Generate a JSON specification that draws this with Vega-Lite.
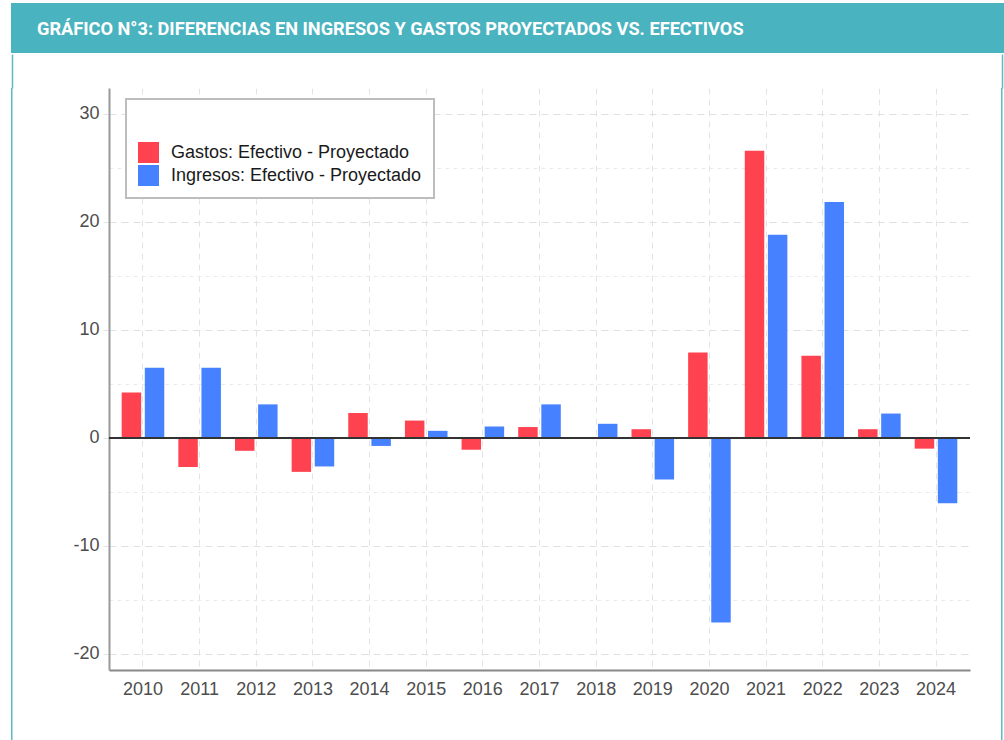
{
  "$schema": "https://vega.github.io/schema/vega-lite/v6.json",
  "padding": {"left": 11, "top": 3, "right": 0, "bottom": 0},
  "background": "white",
  "spacing": 0,
  "config": {
    "view": {"stroke": null},
    "font": "Liberation Sans",
    "legend": {"strokeWidth": 2}
  },
  "resolve": {"legend": {"color": "independent"}, "scale": {"color": "independent"}},
  "vconcat": [
    {
      "width": 993,
      "height": 50,
      "view": {"fill": "#4AB3C0", "stroke": null},
      "data": {"values": [{"t": "GRÁFICO N°3: DIFERENCIAS EN INGRESOS Y GASTOS PROYECTADOS VS. EFECTIVOS"}]},
      "mark": {
        "type": "text",
        "align": "left",
        "baseline": "alphabetic",
        "color": "white",
        "font": "Roboto",
        "fontSize": 18.2,
        "fontWeight": "bold"
      },
      "encoding": {
        "text": {"field": "t"},
        "x": {"value": 26},
        "y": {"value": 31.5}
      }
    },
    {
      "spacing": 0,
      "resolve": {"legend": {"color": "independent"}, "scale": {"color": "independent", "x": "independent", "y": "independent"}},
      "hconcat": [
        {
          "width": 1.5,
          "height": 653,
          "view": {"fill": "#5BBAC6", "stroke": null},
          "data": {"values": [{"v": 0.5}]},
          "mark": {"type": "point", "opacity": 0, "size": 0, "strokeWidth": 0},
          "encoding": {
            "x": {
              "field": "v",
              "type": "quantitative",
              "scale": {"domain": [0, 1], "nice": false},
              "axis": {"orient": "top", "values": [0.5], "labels": false, "domain": false, "grid": false, "ticks": true, "tickSize": 34, "tickColor": "#5BBAC6", "tickWidth": 1.5, "title": null}
            }
          }
        },
        {
          "width": 58.5,
          "height": 653,
          "data": {"values": [{"t": ""}]},
          "mark": {"type": "text"},
          "encoding": {"text": {"field": "t"}}
        },
        {
          "width": 861,
          "height": 582,
          "data": {
            "values": [
              {"year": "2010", "serie": "Gastos: Efectivo - Proyectado", "value": 4.2},
              {"year": "2010", "serie": "Ingresos: Efectivo - Proyectado", "value": 6.5},
              {"year": "2011", "serie": "Gastos: Efectivo - Proyectado", "value": -2.7},
              {"year": "2011", "serie": "Ingresos: Efectivo - Proyectado", "value": 6.5},
              {"year": "2012", "serie": "Gastos: Efectivo - Proyectado", "value": -1.2},
              {"year": "2012", "serie": "Ingresos: Efectivo - Proyectado", "value": 3.1},
              {"year": "2013", "serie": "Gastos: Efectivo - Proyectado", "value": -3.15},
              {"year": "2013", "serie": "Ingresos: Efectivo - Proyectado", "value": -2.65},
              {"year": "2014", "serie": "Gastos: Efectivo - Proyectado", "value": 2.3},
              {"year": "2014", "serie": "Ingresos: Efectivo - Proyectado", "value": -0.75},
              {"year": "2015", "serie": "Gastos: Efectivo - Proyectado", "value": 1.6},
              {"year": "2015", "serie": "Ingresos: Efectivo - Proyectado", "value": 0.65},
              {"year": "2016", "serie": "Gastos: Efectivo - Proyectado", "value": -1.1},
              {"year": "2016", "serie": "Ingresos: Efectivo - Proyectado", "value": 1.05},
              {"year": "2017", "serie": "Gastos: Efectivo - Proyectado", "value": 1.0},
              {"year": "2017", "serie": "Ingresos: Efectivo - Proyectado", "value": 3.1},
              {"year": "2018", "serie": "Gastos: Efectivo - Proyectado", "value": 0},
              {"year": "2018", "serie": "Ingresos: Efectivo - Proyectado", "value": 1.3},
              {"year": "2019", "serie": "Gastos: Efectivo - Proyectado", "value": 0.8},
              {"year": "2019", "serie": "Ingresos: Efectivo - Proyectado", "value": -3.85},
              {"year": "2020", "serie": "Gastos: Efectivo - Proyectado", "value": 7.9},
              {"year": "2020", "serie": "Ingresos: Efectivo - Proyectado", "value": -17.1},
              {"year": "2021", "serie": "Gastos: Efectivo - Proyectado", "value": 26.6},
              {"year": "2021", "serie": "Ingresos: Efectivo - Proyectado", "value": 18.8},
              {"year": "2022", "serie": "Gastos: Efectivo - Proyectado", "value": 7.6},
              {"year": "2022", "serie": "Ingresos: Efectivo - Proyectado", "value": 21.85},
              {"year": "2023", "serie": "Gastos: Efectivo - Proyectado", "value": 0.8},
              {"year": "2023", "serie": "Ingresos: Efectivo - Proyectado", "value": 2.25},
              {"year": "2024", "serie": "Gastos: Efectivo - Proyectado", "value": -1.0},
              {"year": "2024", "serie": "Ingresos: Efectivo - Proyectado", "value": -6.05}
            ]
          },
          "layer": [
            {
              "mark": {"type": "bar"},
              "encoding": {
                "x": {
                  "field": "year",
                  "type": "nominal",
                  "scale": {"paddingInner": 0, "paddingOuter": 0.1},
                  "axis": {
                    "title": null,
                    "labelAngle": 0,
                    "labelFontSize": 18,
                    "labelColor": "#4d4d4d",
                    "ticks": false,
                    "labelPadding": 10,
                    "domainColor": "#888888",
                    "domainWidth": 2,
                    "grid": true,
                    "gridColor": "#e3e3e3",
                    "gridDash": [6, 5],
                    "bandPosition": 0.5
                  }
                },
                "xOffset": {
                  "field": "serie",
                  "scale": {
                    "domain": ["Gastos: Efectivo - Proyectado", "Ingresos: Efectivo - Proyectado"],
                    "paddingInner": 0.157,
                    "paddingOuter": 0.304
                  }
                },
                "y": {
                  "field": "value",
                  "type": "quantitative",
                  "scale": {"domain": [-21.5, 32.4], "nice": false, "zero": false},
                  "axis": {
                    "title": null,
                    "values": [-20, -15, -10, -5, 0, 5, 10, 15, 20, 25, 30],
                    "labelExpr": "datum.value % 10 === 0 ? replace(datum.label, '−', '-') : ''",
                    "labelFontSize": 18,
                    "labelColor": "#4d4d4d",
                    "labelPadding": 4,
                    "domainColor": "#999999",
                    "domainWidth": 2,
                    "tickColor": "#e3e3e3",
                    "tickSize": 6,
                    "tickOpacity": {"condition": {"test": "datum.value % 10 === 0", "value": 1}, "value": 0},
                    "grid": true,
                    "gridColor": {"condition": {"test": "datum.value % 10 === 0", "value": "#e0e0e0"}, "value": "#eaeaea"},
                    "gridDash": {"condition": {"test": "datum.value % 10 === 0", "value": [7, 5]}, "value": [4, 4]}
                  }
                },
                "color": {
                  "field": "serie",
                  "type": "nominal",
                  "scale": {
                    "domain": ["Gastos: Efectivo - Proyectado", "Ingresos: Efectivo - Proyectado"],
                    "range": ["#FF4250", "#4682FF"]
                  },
                  "legend": {
                    "orient": "none",
                    "legendX": 17,
                    "legendY": 11,
                    "title": " ",
                    "titleFontSize": 18,
                    "titlePadding": 13,
                    "padding": 12,
                    "strokeColor": "#bdbdbd",
                    "fillColor": "white",
                    "symbolType": "square",
                    "symbolSize": 441,
                    "symbolStrokeWidth": 0,
                    "symbolOpacity": 1,
                    "labelFontSize": 18,
                    "labelOffset": 12,
                    "labelColor": "#1a1a1a",
                    "rowPadding": 2,
                    "labelLimit": 400
                  }
                }
              }
            },
            {
              "mark": {"type": "rule", "color": "#333333", "strokeWidth": 1.5},
              "encoding": {"y": {"datum": 0}}
            }
          ]
        },
        {
          "width": 30,
          "height": 653,
          "data": {"values": [{"t": ""}]},
          "mark": {"type": "text"},
          "encoding": {"text": {"field": "t"}}
        },
        {
          "width": 1.5,
          "height": 653,
          "view": {"fill": "#5BBAC6", "stroke": null},
          "data": {"values": [{"v": 0.5}]},
          "mark": {"type": "point", "opacity": 0, "size": 0, "strokeWidth": 0},
          "encoding": {
            "x": {
              "field": "v",
              "type": "quantitative",
              "scale": {"domain": [0, 1], "nice": false},
              "axis": {"orient": "top", "values": [0.5], "labels": false, "domain": false, "grid": false, "ticks": true, "tickSize": 34, "tickColor": "#5BBAC6", "tickWidth": 1.5, "title": null}
            }
          }
        }
      ]
    }
  ]
}
